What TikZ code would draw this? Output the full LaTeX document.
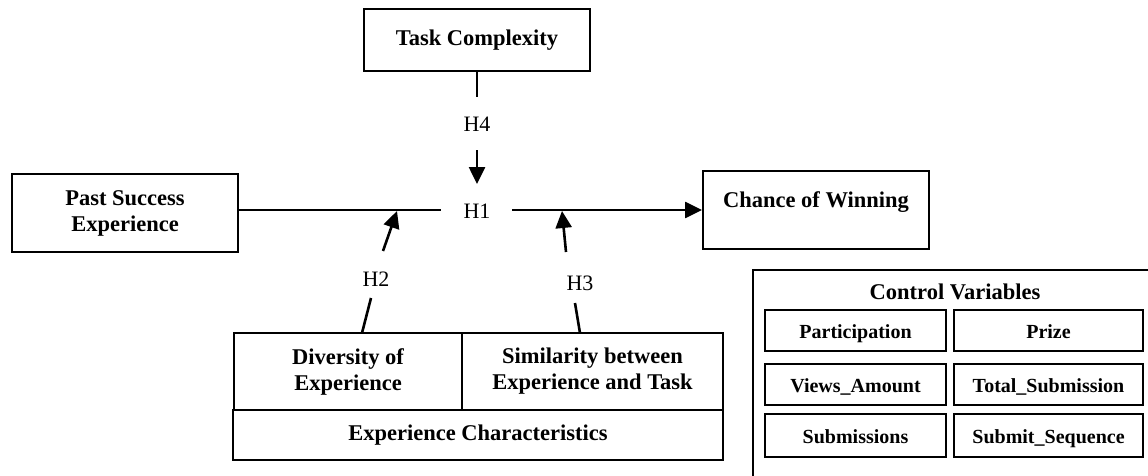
\documentclass[tikz,border=0pt]{standalone}
\usepackage{fontspec}
\setmainfont{Liberation Serif}
\usetikzlibrary{arrows.meta}
\begin{document}
\begin{tikzpicture}[x=1pt,y=-1pt,
  box/.style={draw,line width=2pt,inner sep=0pt,align=center,font=\fontsize{22.5}{26}\selectfont\bfseries},
  small/.style={draw,line width=2pt,inner sep=0pt,align=center,text height=17pt,text depth=2pt,font=\fontsize{20}{24}\selectfont\bfseries},
  hyp/.style={inner sep=0pt,font=\fontsize{22}{26}\selectfont},
  conn/.style={line width=2.6pt},
  arr/.style={line width=2.6pt,-{Triangle[length=17pt,width=16pt]}}]
\useasboundingbox (0,0) rectangle (1148,476);
\clip (0,0) rectangle (1148,476);
% boxes
\node[box,minimum width=226,minimum height=62] (task) at (477,40) {Task Complexity};
\node[box,minimum width=226,minimum height=78] (past) at (125,213) {Past Success\\Experience};
\node[box,minimum width=226,minimum height=78,label={[inner sep=0pt,font=\fontsize{22.5}{26}\selectfont\bfseries,yshift=8pt]center:Chance of Winning}] (chance) at (816,210) {};
\node[box,minimum width=228,minimum height=77] (div) at (348,371.5) {Diversity of\\Experience};
\node[box,minimum width=261,minimum height=77] (sim) at (592.5,371.5) {Similarity between\\Experience and Task};
\node[box,minimum width=490,minimum height=50] (expc) at (478,435) {Experience Characteristics};
% control variables
\node[draw,line width=2pt,minimum width=420,minimum height=240,anchor=north west] (ctrl) at (752,269) {};
\node[inner sep=0pt,font=\fontsize{22.5}{26}\selectfont\bfseries] (ctitle) at (955,292) {Control Variables};
\node[small,minimum width=181,minimum height=41] (c11) at (855.5,330.5) {Participation};
\node[small,minimum width=189,minimum height=41] (c12) at (1048.5,330.5) {Prize};
\node[small,minimum width=181,minimum height=41] (c21) at (855.5,384.5) {Views\_Amount};
\node[small,minimum width=189,minimum height=41] (c22) at (1048.5,384.5) {Total\_Submission};
\node[small,minimum width=181,minimum height=43] (c31) at (855.5,435.5) {Submissions};
\node[small,minimum width=189,minimum height=43] (c32) at (1048.5,435.5) {Submit\_Sequence};
% hypothesis labels
\node[hyp] (h1) at (477,211) {H1};
\node[hyp] (h4) at (477,124) {H4};
\node[hyp] (h2) at (376,279) {H2};
\node[hyp] (h3) at (580,283) {H3};
% coordinates
\coordinate (t1) at (477,97);
\coordinate (t2) at (477,150);
\coordinate (t3) at (477,184);
\coordinate (l1) at (441,210);
\coordinate (r1) at (512,210);
\coordinate (d1) at (362,333);
\coordinate (d2) at (371,298);
\coordinate (d3) at (383,251);
\coordinate (d4) at (397,211);
\coordinate (s1) at (580,333);
\coordinate (s2) at (575,303);
\coordinate (s3) at (566,252);
\coordinate (s4) at (562,211);
% connectors
\draw[conn] (task.south) -- (t1);
\draw[arr] (t2) -- (t3);
\draw[conn] (past.east |- l1) -- (l1);
\draw[arr] (r1) -- (chance.west |- r1);
\draw[conn] (d1) -- (d2);
\draw[arr] (d3) -- (d4);
\draw[conn] (s1) -- (s2);
\draw[arr] (s3) -- (s4);
\end{tikzpicture}
\end{document}
